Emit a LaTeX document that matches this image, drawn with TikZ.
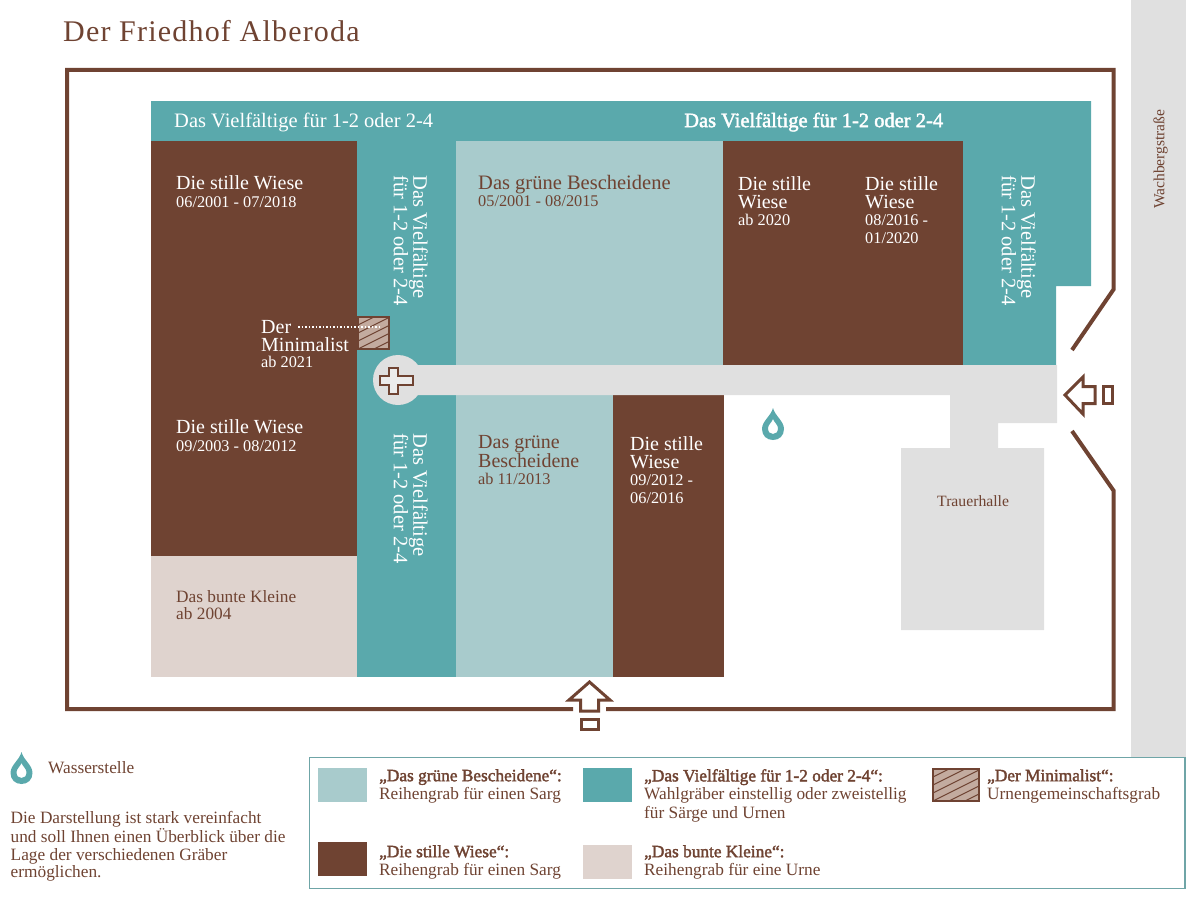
\documentclass[tikz,border=0pt]{standalone}
\usepackage{fontspec}
\setmainfont{Liberation Serif}
\newfontfamily\boldserif[FakeBold=2]{Liberation Serif}
\newfontfamily\titleserif[LetterSpace=4]{Liberation Serif}
\usetikzlibrary{positioning}
\definecolor{brownc}{HTML}{6F4332}
\definecolor{tealc}{HTML}{5AA9AC}
\definecolor{greenc}{HTML}{A8CBCC}
\definecolor{beigec}{HTML}{DFD3CE}
\definecolor{greyc}{HTML}{E0E0E0}
\definecolor{hatchc}{HTML}{C3AB9F}
\definecolor{framec}{HTML}{6FA5A7}
\newcommand{\headfont}{\fontsize{20}{18}\selectfont}
\newcommand{\vertfont}{\fontsize{20.5}{19.5}\selectfont}
\newcommand{\subfont}{\fontsize{16.3}{18}\selectfont}
\newcommand{\notefont}{\fontsize{17.3}{17.4}\selectfont}
\tikzset{%
	wall/.style     = {draw=brownc, line width=4pt, line join=miter},
	arrowline/.style= {draw=brownc, line width=3pt, fill=white, line join=miter},
	whitetext/.style= {text=white, inner sep=0pt, anchor=north west, align=left},
	browntext/.style= {text=brownc, inner sep=0pt, anchor=north west, align=left},
	upright/.style  = {rotate=-90},
	legendbox/.style= {anchor=north west, inner sep=0pt, minimum width=49pt, minimum height=34pt},
	legendtext/.style = {browntext, font=\fontsize{17.3}{18.5}\selectfont},
	hatchbox/.style = {draw=brownc, line width=2pt, fill=hatchc, inner sep=0pt, anchor=north west,
		path picture={
			\foreach \i in {-40,-32,...,32}
				\draw[brownc, line width=1pt] ([yshift=\i pt]path picture bounding box.south west) -- ++(70,-35);
		}},
	drop/.pic = {
		\fill[tealc, even odd rule] (0,-16) .. controls (2,-8) and (11,-3) .. (11,5) .. controls (11,12) and (6,16) .. (0,16) .. controls (-6,16) and (-11,12) .. (-11,5) .. controls (-11,-3) and (-2,-8) .. (0,-16) -- cycle
			(0,-5) .. controls (1,-2) and (5,1) .. (5,4) .. controls (5,8) and (3,10) .. (0,10) .. controls (-3,10) and (-5,8) .. (-5,4) .. controls (-5,1) and (-1,-2) .. (0,-5) -- cycle;
	},
}
\begin{document}
\begin{tikzpicture}[x=1pt,y=-1pt]
	\useasboundingbox (0,0) rectangle (1197,899);
	% street and ground
	\fill[greyc] (1131,0) rectangle (1186,757);
	\fill[tealc] (151,101) -- (1091,101) -- (1091,286) -- (1056,286) -- (1056,365) -- (963,365) -- (963,141) -- (151,141) -- cycle;
	\fill[tealc] (357,141) rectangle (456,677);
	\fill[brownc] (151,141) rectangle (357,556);
	\fill[beigec] (151,556) rectangle (357,677);
	\fill[greenc] (456,141) rectangle (723,365);
	\fill[brownc] (723,141) rectangle (963,365);
	\fill[greenc] (456,395) rectangle (613,677);
	\fill[brownc] (613,395) rectangle (724,677);
	% paths
	\fill[greyc] (398,380) circle[radius=25];
	\fill[greyc] (398,365) -- (1057,365) -- (1057,423) -- (998,423) -- (998,448) -- (1044,448) -- (1044,630) -- (901,630) -- (901,448) -- (950,448) -- (950,395) -- (398,395) -- cycle;
	\draw[brownc, fill=greyc!60!white, line width=2pt] (389,367.5) -- (398,367.5) -- (398,376) -- (413,376) -- (413,385) -- (398,385) -- (398,393.5) -- (389,393.5) -- (389,385) -- (380,385) -- (380,376) -- (389,376) -- cycle;
	% wall
	\draw[wall] (573,709) -- (67,709) -- (67,70) -- (1113.5,70) -- (1113.5,289.5) -- (1072,350);
	\draw[wall] (1072,431) -- (1113.5,490.5) -- (1113.5,709) -- (606,709);
	% entrances
	\draw[arrowline] (589.5,682) -- (610,700) -- (598.5,700) -- (598.5,711) -- (580.5,711) -- (580.5,700) -- (569,700) -- cycle;
	\draw[arrowline] (581,719.5) rectangle (598,729);
	\draw[arrowline] (1065,395) -- (1083,377) -- (1083,386.5) -- (1095,386.5) -- (1095,403.5) -- (1083,403.5) -- (1083,414) -- cycle;
	\draw[arrowline] (1103,386.5) rectangle (1112,403.5);
	% water
	\pic at (773,424) {drop};
	\pic at (21.5,768) {drop};
	% minimalist
	\node[hatchbox, minimum width=31pt, minimum height=32pt] (minbox) at (357,316) {};
	\coordinate (minend) at (379,327);
	\node[whitetext, font=\headfont] (minlabel) at (261,320) {Der\\Minimalist};
	\node[whitetext, font=\subfont, below=4pt of minlabel.south west, anchor=north west] (minsince) {ab 2021};
	\coordinate (minstart) at (298,327);
	\draw[white, line width=1.5pt, dotted] (minstart) -- (minend);
	% labels
	\node[browntext, font=\fontsize{30}{32}\selectfont\titleserif] (title) at (63,20) {Der Friedhof Alberoda};
	\node[whitetext, font=\vertfont] (topleft) at (174,112.5) {Das Vielfältige für 1-2 oder 2-4};
	\node[whitetext, font=\vertfont\boldserif] (topright) at (684,112.5) {Das Vielfältige für 1-2 oder 2-4};
	\node[whitetext, font=\headfont] (wiesea) at (176,175.5) {Die stille Wiese};
	\node[whitetext, font=\subfont, below=6pt of wiesea.south west, anchor=north west] (wieseasub) {06/2001 - 07/2018};
	\node[whitetext, font=\headfont] (wieseb) at (176,419.5) {Die stille Wiese};
	\node[whitetext, font=\subfont, below=6pt of wieseb.south west, anchor=north west] (wiesebsub) {09/2003 - 08/2012};
	\node[whitetext, font=\headfont] (wiesec) at (738,176) {Die stille\\Wiese};
	\node[whitetext, font=\subfont, below=5pt of wiesec.south west, anchor=north west] (wiesecsub) {ab 2020};
	\node[whitetext, font=\headfont] (wiesed) at (865,176) {Die stille\\Wiese};
	\node[whitetext, font=\subfont, below=6pt of wiesed.south west, anchor=north west] (wiesedsub) {08/2016 -\\01/2020};
	\node[whitetext, font=\headfont] (wiesee) at (630,436) {Die stille\\Wiese};
	\node[whitetext, font=\subfont, below=6pt of wiesee.south west, anchor=north west] (wieseesub) {09/2012 -\\06/2016};
	\node[browntext, font=\vertfont] (gruena) at (478,175.5) {Das grüne Bescheidene};
	\node[browntext, font=\subfont, below=1pt of gruena.south west, anchor=north west] (gruenasub) {05/2001 - 08/2015};
	\node[browntext, font=\headfont] (gruenb) at (478,435) {Das grüne\\Bescheidene};
	\node[browntext, font=\subfont, below=5pt of gruenb.south west, anchor=north west] (gruenbsub) {ab 11/2013};
	\node[browntext, font=\notefont] (bunt) at (176,590) {Das bunte Kleine\\ab 2004};
	\node[whitetext, font=\vertfont, upright] (viela) at (428,175) {Das Vielfältige\\für 1-2 oder 2-4};
	\node[whitetext, font=\vertfont, upright] (vielb) at (428,433) {Das Vielfältige\\für 1-2 oder 2-4};
	\node[whitetext, font=\vertfont, upright] (vielc) at (1036,175) {Das Vielfältige\\für 1-2 oder 2-4};
	\node[browntext, font=\fontsize{15.5}{17}\selectfont, rotate=90, anchor=south west] (strasse) at (1168,209) {Wachbergstraße};
	\node[browntext, font=\fontsize{15.7}{17}\selectfont] (halle) at (937,495) {Trauerhalle};
	% legend
	\node[browntext, font=\notefont] (wasser) at (48,761) {Wasserstelle};
	\node[browntext, font=\notefont] (hinweis) at (10.5,811.5) {Die Darstellung ist stark vereinfacht\\und soll Ihnen einen Überblick über die\\Lage der verschiedenen Gräber\\ermöglichen.};
	\draw[framec, line width=1.5pt] (309.5,757.5) rectangle (1185,888.5);
	\node[legendbox, fill=greenc] (keygruen) at (318,768) {};
	\node[legendbox, fill=tealc] (keyviel) at (583,768) {};
	\node[hatchbox, minimum width=46pt, minimum height=32pt] (keymin) at (932,768) {};
	\node[legendbox, fill=brownc] (keystill) at (318,842) {};
	\node[legendbox, fill=beigec] (keybunt) at (583,845) {};
	\node[legendtext] (textgruen) at (379,769) {{\boldserif „Das grüne Bescheidene“:}\\Reihengrab für einen Sarg};
	\node[legendtext] (textviel) at (644,769) {{\boldserif „Das Vielfältige für 1-2 oder 2-4“:}\\Wahlgräber einstellig oder zweistellig\\für Särge und Urnen};
	\node[legendtext] (textmin) at (987,769) {{\boldserif „Der Minimalist“:}\\Urnengemeinschaftsgrab};
	\node[legendtext] (textstill) at (379,845) {{\boldserif „Die stille Wiese“:}\\Reihengrab für einen Sarg};
	\node[legendtext] (textbunt) at (644,845) {{\boldserif „Das bunte Kleine“:}\\Reihengrab für eine Urne};
\end{tikzpicture}
\end{document}
